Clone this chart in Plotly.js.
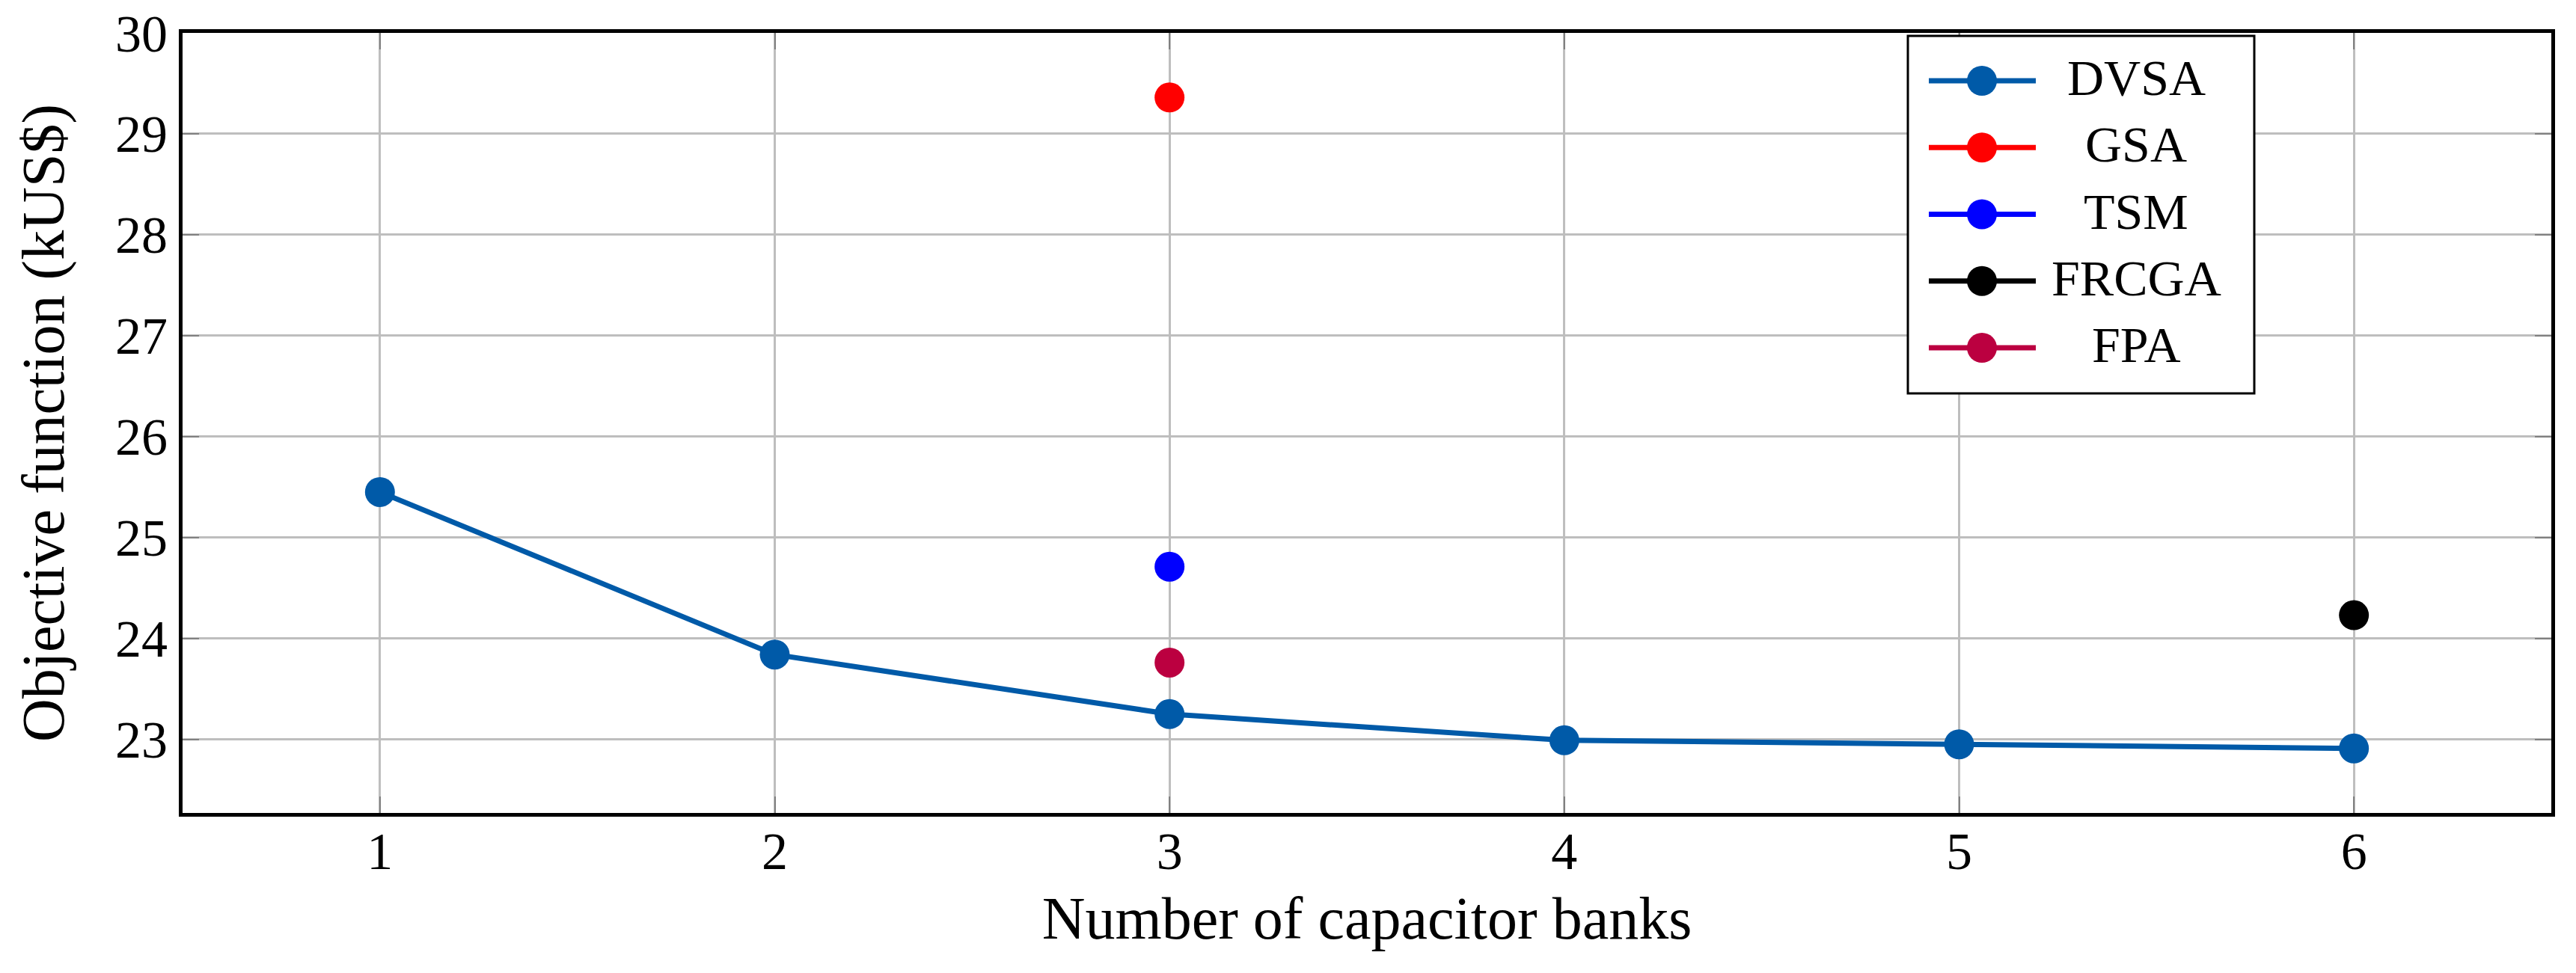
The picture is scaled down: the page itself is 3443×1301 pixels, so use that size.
<!DOCTYPE html>
<html>
<head>
<meta charset="utf-8">
<script src="https://cdn.plot.ly/plotly-3.0.1.min.js"></script>
<style>html,body{margin:0;padding:0;background:#fff;}</style>
</head>
<body>
<div id="chart" style="width:3443px;height:1301px;"></div>
<script>
// Data
const banks = [1, 2, 3, 4, 5, 6];
const dvsa = [25.45, 23.84, 23.25, 22.99, 22.95, 22.91];
const gsaX = [3];
const gsaY = [29.36];
const tsmX = [3];
const tsmY = [24.71];
const frcgaX = [6];
const frcgaY = [24.23];
const fpaX = [3];
const fpaY = [23.76];
const xTicks = [1, 2, 3, 4, 5, 6];
const yTicks = [23, 24, 25, 26, 27, 28, 29, 30];
const seriesNames = ['DVSA', 'GSA', 'TSM', 'FRCGA', 'FPA'];
const seriesColors = ['#005AA8', '#FF0000', '#0000FF', '#000000', '#BB0040'];

const FONT = 'Liberation Serif, Times New Roman, serif';

function series(i, x, y) {
  return {
    type: 'scatter', mode: 'lines+markers', name: seriesNames[i],
    x: x, y: y,
    line: {color: seriesColors[i], width: 7},
    marker: {color: seriesColors[i], size: 40, symbol: 'circle'},
    cliponaxis: false
  };
}

const traces = [
  series(0, banks, dvsa),
  series(1, gsaX, gsaY),
  series(2, tsmX, tsmY),
  series(3, frcgaX, frcgaY),
  series(4, fpaX, fpaY)
];

// plot area in page pixels (for legend placement in paper coords)
const PL = 244, PR = 3410, PT = 44, PB = 1087;
const px2x = p => (p - PL) / (PR - PL);
const px2y = p => (PB - p) / (PB - PT);

const shapes = [{
  type: 'rect', xref: 'paper', yref: 'paper', layer: 'above',
  x0: px2x(2550), x1: px2x(3013), y0: px2y(526), y1: px2y(48),
  fillcolor: '#ffffff', line: {color: '#000000', width: 3}
}];
const annotations = [];
seriesNames.forEach((name, i) => {
  const yc = 108 + i * 89.25;
  shapes.push({
    type: 'line', xref: 'paper', yref: 'paper', layer: 'above',
    x0: px2x(2578), x1: px2x(2721), y0: px2y(yc), y1: px2y(yc),
    line: {color: seriesColors[i], width: 7}
  });
  shapes.push({
    type: 'circle', xref: 'paper', yref: 'paper', layer: 'above',
    xsizemode: 'pixel', ysizemode: 'pixel',
    xanchor: px2x(2649), yanchor: px2y(yc),
    x0: -20, x1: 20, y0: -20, y1: 20,
    fillcolor: seriesColors[i], line: {width: 0}
  });
  annotations.push({
    xref: 'paper', yref: 'paper', x: px2x(2855), y: px2y(yc - 4),
    xanchor: 'center', yanchor: 'middle', showarrow: false,
    text: name, font: {family: FONT, size: 68, color: '#000000'}
  });
});

const layout = {
  width: 3443, height: 1301,
  margin: {l: PL, r: 3443 - PR, t: PT, b: 1301 - PB},
  paper_bgcolor: '#ffffff', plot_bgcolor: '#ffffff',
  font: {family: FONT, color: '#000000', size: 70},
  showlegend: false,
  shapes: shapes,
  annotations: annotations,
  xaxis: {
    range: [0.5, 6.5], tickvals: xTicks, ticktext: xTicks.map(String),
    showgrid: true, gridcolor: '#BEBEBE', gridwidth: 3,
    zeroline: false,
    showline: true, linecolor: '#000000', linewidth: 5, mirror: 'ticks',
    ticks: 'inside', ticklen: 22, tickwidth: 2, tickcolor: '#808080',
    tickfont: {family: FONT, size: 70, color: '#000000'},
    ticklabelstandoff: -14,
    title: {text: 'Number of capacitor banks', font: {family: FONT, size: 80, color: '#000000'}, standoff: 24},
    automargin: false
  },
  yaxis: {
    range: [22.27, 30], tickvals: yTicks, ticktext: yTicks.map(String),
    showgrid: true, gridcolor: '#BEBEBE', gridwidth: 3,
    zeroline: false,
    showline: true, linecolor: '#000000', linewidth: 5, mirror: 'ticks',
    ticks: 'inside', ticklen: 22, tickwidth: 2, tickcolor: '#808080',
    tickfont: {family: FONT, size: 70, color: '#000000'},
    ticklabelstandoff: 1,
    title: {text: 'Objective function (kUS$)', font: {family: FONT, size: 80, color: '#000000'}, standoff: 44},
    automargin: false
  }
};

Plotly.newPlot('chart', traces, layout, {staticPlot: true, displayModeBar: false});
</script>
</body>
</html>
